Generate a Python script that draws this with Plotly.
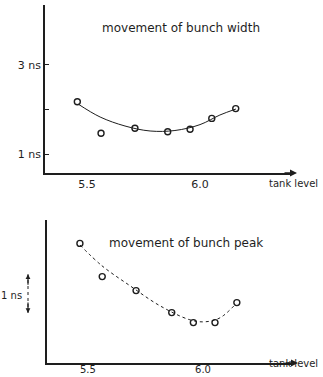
import plotly.graph_objects as go

W, H = 323, 377

# ---- data: top panel (bunch width, ns) ----
width_x = [5.457, 5.562, 5.712, 5.857, 5.956, 6.052, 6.158]
width_y = [2.175, 1.465, 1.578, 1.500, 1.555, 1.800, 2.020]
width_fit_x = [5.460, 5.558, 5.668, 5.779, 5.889, 6.000, 6.088, 6.159]
width_fit_y = [2.124, 1.831, 1.629, 1.517, 1.528, 1.660, 1.876, 2.011]

# ---- data: bottom panel (bunch peak, ns, relative) ----
peak_x = [5.465, 5.562, 5.709, 5.864, 5.958, 6.052, 6.147]
peak_y = [2.99, 2.16, 1.81, 1.26, 1.01, 1.01, 1.51]
peak_fit_x = [5.465, 5.561, 5.683, 5.813, 5.943, 6.009, 6.074, 6.143]
peak_fit_y = [2.95, 2.43, 1.93, 1.43, 1.08, 1.03, 1.13, 1.48]

x_tick_vals = [5.5, 6.0]
x_tick_text = ["5.5", "6.0"]
y_tick_vals = [1, 2, 3]
y_tick_text = ["1 ns", "", "3 ns"]

INK = "#1e1e1e"
FONT = "DejaVu Sans"

fig = go.Figure()

fig.add_trace(go.Scatter(x=width_fit_x, y=width_fit_y, mode="lines",
                         line=dict(color=INK, width=1, shape="spline"),
                         xaxis="x", yaxis="y", hoverinfo="skip"))
fig.add_trace(go.Scatter(x=width_x, y=width_y, mode="markers",
                         marker=dict(symbol="circle-open", size=6, color=INK,
                                     line=dict(width=1.4, color=INK)),
                         xaxis="x", yaxis="y"))
fig.add_trace(go.Scatter(x=peak_fit_x, y=peak_fit_y, mode="lines",
                         line=dict(color=INK, width=1, shape="spline", dash="dot"),
                         xaxis="x2", yaxis="y2", hoverinfo="skip"))
fig.add_trace(go.Scatter(x=peak_x, y=peak_y, mode="markers",
                         marker=dict(symbol="circle-open", size=6, color=INK,
                                     line=dict(width=1.4, color=INK)),
                         xaxis="x2", yaxis="y2"))

def px(v):
    return v / W

def py(v):
    return 1 - v / H

axis_common = dict(showline=True, linecolor=INK, linewidth=1.6, showgrid=False,
                   zeroline=False, automargin=False)

fig.update_layout(
    width=W, height=H,
    margin=dict(l=0, r=0, t=0, b=0),
    paper_bgcolor="white", plot_bgcolor="white",
    showlegend=False,
    xaxis=dict(domain=[px(45), px(292)], range=[5.314, 6.407], anchor="y",
               tickvals=x_tick_vals, ticktext=x_tick_text, ticks="",
               tickfont=dict(family=FONT, size=11, color=INK), **axis_common),
    yaxis=dict(domain=[py(173), py(5)], range=[0.573, 4.348], anchor="x",
               tickvals=y_tick_vals, ticktext=y_tick_text, ticks="inside",
               ticklen=4, tickcolor=INK,
               tickfont=dict(family=FONT, size=11, color=INK), **axis_common),
    xaxis2=dict(domain=[px(47), px(293)], range=[5.322, 6.391], anchor="y2",
                tickvals=x_tick_vals, ticktext=x_tick_text, ticks="",
                ticklabelstandoff=-4,
                tickfont=dict(family=FONT, size=10, color=INK), **axis_common),
    yaxis2=dict(domain=[py(363), py(220)], range=[0, 3.575], anchor="x2",
                showticklabels=False, ticks="", **axis_common),
)

ann_font = dict(family=FONT, size=12, color=INK)
annotations = [
    dict(text="movement of bunch width", x=px(181), y=py(19), xref="paper", yref="paper",
         showarrow=False, font=ann_font),
    dict(text="movement of bunch peak", x=px(186), y=py(243), xref="paper", yref="paper",
         showarrow=False, font=ann_font),
    dict(text="tank level", x=px(267), y=py(183), xref="paper", yref="paper",
         xanchor="left", showarrow=False, font=dict(family=FONT, size=10, color=INK)),
    dict(text="tank level", x=px(267), y=py(371), xref="paper", yref="paper",
         xanchor="left", showarrow=False, font=dict(family=FONT, size=10, color=INK)),
    # x-axis arrowheads
    dict(x=px(297), y=py(173), xref="paper", yref="paper", ax=-14, ay=0, text="",
         showarrow=True, arrowhead=2, arrowsize=1, arrowwidth=1.4, arrowcolor=INK),
    dict(x=px(298), y=py(363), xref="paper", yref="paper", ax=-14, ay=0, text="",
         showarrow=True, arrowhead=2, arrowsize=1, arrowwidth=1.4, arrowcolor=INK),
    # 1 ns scale on bottom panel
    dict(text="1 ns", x=px(24), y=1.70, xref="paper", yref="y2", xanchor="right",
         showarrow=False, font=dict(family=FONT, size=10, color=INK)),
    dict(x=px(28), y=2.22, xref="paper", yref="y2", ax=0, ay=12, text="",
         showarrow=True, arrowhead=2, arrowsize=0.8, arrowwidth=1.2, arrowcolor=INK),
    dict(x=px(28), y=1.25, xref="paper", yref="y2", ax=0, ay=-12, text="",
         showarrow=True, arrowhead=2, arrowsize=0.8, arrowwidth=1.2, arrowcolor=INK),
]
fig.update_layout(annotations=annotations)

fig.add_shape(type="line", xref="paper", yref="y2", x0=px(28), x1=px(28), y0=1.25, y1=2.22,
              line=dict(color=INK, width=1, dash="dot"))

fig.write_html("out.html", config={"displayModeBar": False},
               post_script="document.body.style.margin='0';document.body.style.overflow='hidden';")
